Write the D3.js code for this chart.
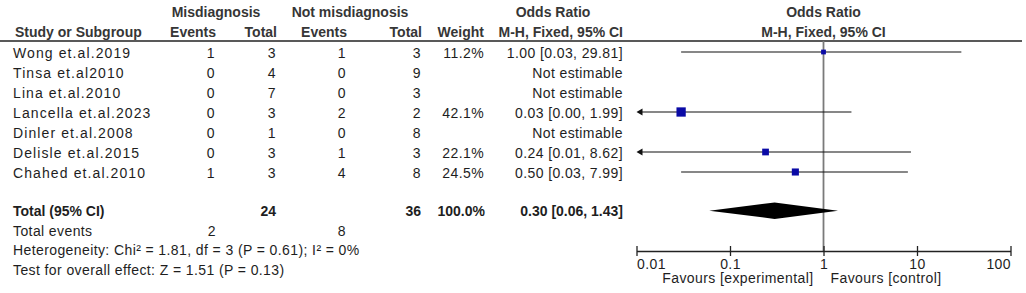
<!DOCTYPE html>
<html><head><meta charset="utf-8">
<script src="https://cdn.jsdelivr.net/npm/d3@7"></script>
<style>
html,body{margin:0;padding:0;background:#fff;}
svg{display:block;}
text{font-family:"Liberation Sans",Arial,sans-serif;}
</style></head>
<body>
<svg id="c" width="1026" height="293"></svg>
<script>
const studies = ["Wong et.al.2019","Tinsa et.al2010","Lina et.al.2010","Lancella et.al.2023","Dinler et.al.2008","Delisle et.al.2015","Chahed et.al.2010"];
const eventsExp = [1,0,0,0,0,0,1];
const totalExp  = [3,4,7,3,1,3,3];
const eventsCtl = [1,0,0,2,0,1,4];
const totalCtl  = [3,9,3,2,8,3,8];
const weights   = [11.2,null,null,42.1,null,22.1,24.5];
const orValues  = [1.00,null,null,0.03,null,0.24,0.50];
const ciLower   = [0.03,null,null,0.00,null,0.01,0.03];
const ciUpper   = [29.81,null,null,1.99,null,8.62,7.99];
const pooled    = {or:0.30, lo:0.06, hi:1.43};
const totals    = {totalExp:24, totalCtl:36, weight:"100.0%", eventsExp:2, eventsCtl:8};
const axisTicks = [0.01,0.1,1,10,100];
const axisTickLabels = ["0.01","0.1","1","10","100"];
const heterogeneityText = "Heterogeneity: Chi\u00b2 = 1.81, df = 3 (P = 0.61); I\u00b2 = 0%";
const overallText = "Test for overall effect: Z = 1.51 (P = 0.13)";

const svg = d3.select("#c");
const TXT = "#1e1e1e", HDR = "#363636", BLUE = "#0a0aa6";
const FS = 14, LS = 0.4, LS_NAME = 1.1;
const f2 = d3.format(".2f");

const x = d3.scaleLog().domain([0.01,100]).range([636.5,1010.5]);
const rowY = d3.scalePoint().domain(d3.range(studies.length)).range([58,178]);

function t(xp, y, s, anchor, bold, color, ls){
  return svg.append("text").attr("x",xp).attr("y",y).text(s)
    .attr("text-anchor",anchor||"start")
    .attr("font-size",FS)
    .attr("font-weight",bold?"bold":"normal")
    .attr("letter-spacing", bold?0:(ls===undefined?LS:ls))
    .attr("fill",color||(bold?HDR:TXT));
}

// headers
t(216,17,"Misdiagnosis","middle",true);
t(350,17,"Not misdiagnosis","middle",true);
t(553,17,"Odds Ratio","middle",true);
t(x(1),17,"Odds Ratio","middle",true);
t(15,37,"Study or Subgroup","start",true);
t(216,37,"Events","end",true);
t(277,37,"Total","end",true);
t(347,37,"Events","end",true);
t(422,37,"Total","end",true);
t(484,37,"Weight","end",true);
t(623,37,"M-H, Fixed, 95% CI","end",true);
t(x(1),37,"M-H, Fixed, 95% CI","middle",true);

svg.append("line").attr("x1",0).attr("x2",1022).attr("y1",41).attr("y2",41)
  .attr("stroke","#222").attr("stroke-width",1.5);

// vertical line of no effect
svg.append("line").attr("x1",x(1)).attr("x2",x(1)).attr("y1",41).attr("y2",251)
  .attr("stroke","#7a7a7a").attr("stroke-width",1.8);

// rows
studies.forEach((s,i)=>{
  const y = rowY(i);
  t(13,y,s,"start",false,TXT,LS_NAME);
  t(215,y,eventsExp[i],"end");
  t(276,y,totalExp[i],"end");
  t(346,y,eventsCtl[i],"end");
  t(421,y,totalCtl[i],"end");
  if(weights[i]!=null) t(484,y,weights[i].toFixed(1)+"%","end");
  if(orValues[i]==null){
    t(623,y,"Not estimable","end");
  } else {
    t(623,y,f2(orValues[i])+" ["+f2(ciLower[i])+", "+f2(ciUpper[i])+"]","end");
    const my = y-6;
    const lo = ciLower[i] <= x.domain()[0] ? x.domain()[0] : ciLower[i];
    const hi = Math.min(ciUpper[i], x.domain()[1]);
    const arrowL = ciLower[i] <= x.domain()[0];
    svg.append("line").attr("x1",x(lo)+(arrowL?4:0)).attr("x2",x(hi)).attr("y1",my).attr("y2",my)
      .attr("stroke","#111").attr("stroke-width",1.2);
    if(arrowL){
      const ax = x(x.domain()[0]);
      svg.append("path").attr("d",`M${ax},${my}L${ax+6},${my-3.5}L${ax+6},${my+3.5}Z`).attr("fill","#111");
    }
    const sz = 1.43*Math.sqrt(weights[i]);
    svg.append("rect").attr("x",x(orValues[i])-sz/2).attr("y",my-sz/2)
      .attr("width",sz).attr("height",sz).attr("fill",BLUE);
  }
});

// totals
t(13,216,"Total (95% CI)","start",true,TXT);
t(276,216,totals.totalExp,"end",true,TXT);
t(421,216,totals.totalCtl,"end",true,TXT);
t(485,216,totals.weight,"end",true,TXT);
t(623,216,f2(pooled.or)+" ["+f2(pooled.lo)+", "+f2(pooled.hi)+"]","end",true,TXT);
const dy = 210.7, dh = 8.2;
svg.append("path").attr("d",`M${x(pooled.lo)},${dy}L${x(pooled.or)},${dy-dh}L${x(pooled.hi)},${dy}L${x(pooled.or)},${dy+dh}Z`)
  .attr("fill","#000");

t(13,236,"Total events","start");
t(216,236,totals.eventsExp,"end");
t(346,236,totals.eventsCtl,"end");
t(13,255,heterogeneityText,"start");
t(13,275,overallText,"start");

// axis
const ax = d3.axisBottom(x).tickValues(axisTicks).tickSize(0).tickFormat((d,i)=>axisTickLabels[i]);
const g = svg.append("g").attr("transform","translate(0,251)").call(ax);
g.select(".domain").attr("stroke","#222").attr("stroke-width",1.3);
g.selectAll(".tick line").attr("y1",-5).attr("y2",5).attr("stroke","#222").attr("stroke-width",1.3);
g.selectAll(".tick text").attr("font-size",FS).attr("fill",TXT).attr("letter-spacing",LS)
  .attr("font-family","'Liberation Sans',Arial,sans-serif")
  .attr("dy",null).attr("y",18)
  .attr("text-anchor",(d,i)=> i===0?"start":(i===axisTicks.length-1?"end":"middle"));

t(x(1)-10,283,"Favours [experimental]","end");
t(x(1)+7,283,"Favours [control]","start");
</script>
</body></html>
